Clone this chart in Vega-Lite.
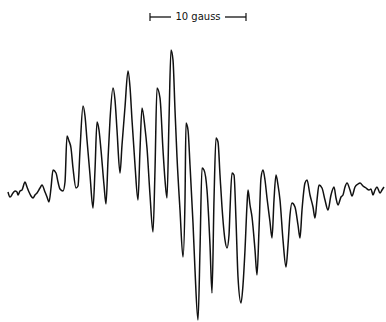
{
  "$schema": "https://vega.github.io/schema/vega-lite/v6.json",
  "width": 386,
  "height": 322,
  "padding": 0,
  "autosize": {"type": "fit", "contains": "padding"},
  "background": "white",
  "config": {"view": {"stroke": null}},
  "datasets": {
    "trace": [
      {"x":8,"y":192},{"x":10,"y":197},{"x":13,"y":193},{"x":15,"y":191},{"x":17,"y":192},{"x":18,"y":195},{"x":20,"y":191},{"x":22,"y":190},{"x":25,"y":182},{"x":27,"y":187},{"x":29,"y":192},{"x":31,"y":196},{"x":33,"y":198},{"x":35,"y":195},{"x":37,"y":193},{"x":40,"y":188},{"x":42,"y":185},{"x":45,"y":192},{"x":47,"y":197},{"x":49,"y":202},{"x":51,"y":188},{"x":53,"y":170},{"x":56,"y":173},{"x":58,"y":182},{"x":60,"y":189},{"x":63,"y":191},{"x":65,"y":182},{"x":67,"y":136},{"x":69,"y":141},{"x":71,"y":148},{"x":73,"y":168},{"x":76,"y":188},{"x":78,"y":186},{"x":80,"y":150},{"x":83,"y":106},{"x":85,"y":116},{"x":87,"y":140},{"x":90,"y":175},{"x":93,"y":208},{"x":95,"y":170},{"x":97,"y":122},{"x":99,"y":130},{"x":101,"y":150},{"x":104,"y":185},{"x":106,"y":204},{"x":108,"y":160},{"x":110,"y":120},{"x":113,"y":88},{"x":115,"y":100},{"x":117,"y":130},{"x":120,"y":173},{"x":122,"y":145},{"x":125,"y":107},{"x":128,"y":71},{"x":130,"y":87},{"x":132,"y":120},{"x":135,"y":165},{"x":138,"y":200},{"x":140,"y":150},{"x":142,"y":108},{"x":145,"y":128},{"x":147,"y":148},{"x":150,"y":195},{"x":153,"y":232},{"x":155,"y":170},{"x":157,"y":88},{"x":160,"y":98},{"x":163,"y":150},{"x":165,"y":180},{"x":167,"y":198},{"x":169,"y":120},{"x":171,"y":50},{"x":173,"y":60},{"x":175,"y":110},{"x":177,"y":157},{"x":180,"y":210},{"x":183,"y":257},{"x":185,"y":200},{"x":186,"y":123},{"x":188,"y":130},{"x":190,"y":165},{"x":193,"y":223},{"x":195,"y":270},{"x":198,"y":320},{"x":200,"y":250},{"x":202,"y":168},{"x":204,"y":170},{"x":207,"y":190},{"x":210,"y":245},{"x":212,"y":293},{"x":214,"y":200},{"x":216,"y":138},{"x":218,"y":142},{"x":220,"y":175},{"x":222,"y":207},{"x":225,"y":240},{"x":227,"y":248},{"x":229,"y":235},{"x":230,"y":210},{"x":232,"y":173},{"x":234,"y":175},{"x":236,"y":220},{"x":238,"y":277},{"x":241,"y":303},{"x":243,"y":285},{"x":245,"y":250},{"x":247,"y":205},{"x":248,"y":190},{"x":250,"y":205},{"x":252,"y":217},{"x":255,"y":250},{"x":257,"y":275},{"x":259,"y":230},{"x":261,"y":178},{"x":263,"y":170},{"x":265,"y":180},{"x":267,"y":198},{"x":270,"y":222},{"x":272,"y":238},{"x":274,"y":200},{"x":276,"y":175},{"x":278,"y":185},{"x":280,"y":200},{"x":283,"y":240},{"x":286,"y":267},{"x":288,"y":245},{"x":290,"y":215},{"x":292,"y":203},{"x":295,"y":207},{"x":298,"y":225},{"x":300,"y":238},{"x":302,"y":210},{"x":305,"y":183},{"x":307,"y":180},{"x":310,"y":195},{"x":313,"y":207},{"x":315,"y":218},{"x":317,"y":200},{"x":319,"y":185},{"x":322,"y":188},{"x":325,"y":200},{"x":328,"y":210},{"x":331,"y":195},{"x":334,"y":187},{"x":336,"y":198},{"x":338,"y":205},{"x":341,"y":197},{"x":343,"y":195},{"x":345,"y":187},{"x":347,"y":183},{"x":350,"y":190},{"x":352,"y":196},{"x":355,"y":187},{"x":358,"y":184},{"x":360,"y":183},{"x":363,"y":186},{"x":366,"y":188},{"x":369,"y":190},{"x":371,"y":189},{"x":373,"y":195},{"x":375,"y":190},{"x":377,"y":187},{"x":380,"y":193},{"x":382,"y":190},{"x":384,"y":187}
    ],
    "bar": [{"x1":150,"x2":171,"y":17},{"x1":225,"x2":246,"y":17}],
    "ends": [{"x":150,"ya":13,"yb":21},{"x":246,"ya":13,"yb":21}],
    "label": [{"x":198,"y":17,"text":"10 gauss"}]
  },
  "encoding": {},
  "layer": [
    {
      "data": {"name": "trace"},
      "mark": {"type": "line", "color": "#111", "strokeWidth": 1.5, "strokeJoin": "round", "interpolate": "monotone"},
      "encoding": {
        "x": {"field": "x", "type": "quantitative", "scale": {"domain": [0, 386], "nice": false, "zero": false}, "axis": null},
        "y": {"field": "y", "type": "quantitative", "scale": {"domain": [0, 322], "nice": false, "zero": false, "reverse": true}, "axis": null}
      }
    },
    {
      "data": {"name": "bar"},
      "mark": {"type": "rule", "color": "#111", "strokeWidth": 1.3},
      "encoding": {
        "x": {"field": "x1", "type": "quantitative", "scale": {"domain": [0, 386], "nice": false, "zero": false}, "axis": null},
        "x2": {"field": "x2"},
        "y": {"field": "y", "type": "quantitative", "scale": {"domain": [0, 322], "nice": false, "zero": false, "reverse": true}, "axis": null}
      }
    },
    {
      "data": {"name": "ends"},
      "mark": {"type": "rule", "color": "#111", "strokeWidth": 1.2},
      "encoding": {
        "x": {"field": "x", "type": "quantitative", "scale": {"domain": [0, 386], "nice": false, "zero": false}, "axis": null},
        "y": {"field": "ya", "type": "quantitative", "scale": {"domain": [0, 322], "nice": false, "zero": false, "reverse": true}, "axis": null},
        "y2": {"field": "yb"}
      }
    },
    {
      "data": {"name": "label"},
      "mark": {"type": "text", "font": "DejaVu Sans", "fontSize": 10, "fontWeight": "normal", "color": "#111", "align": "center", "baseline": "middle"},
      "encoding": {
        "x": {"field": "x", "type": "quantitative", "scale": {"domain": [0, 386], "nice": false, "zero": false}, "axis": null},
        "y": {"field": "y", "type": "quantitative", "scale": {"domain": [0, 322], "nice": false, "zero": false, "reverse": true}, "axis": null},
        "text": {"field": "text"}
      }
    }
  ]
}
